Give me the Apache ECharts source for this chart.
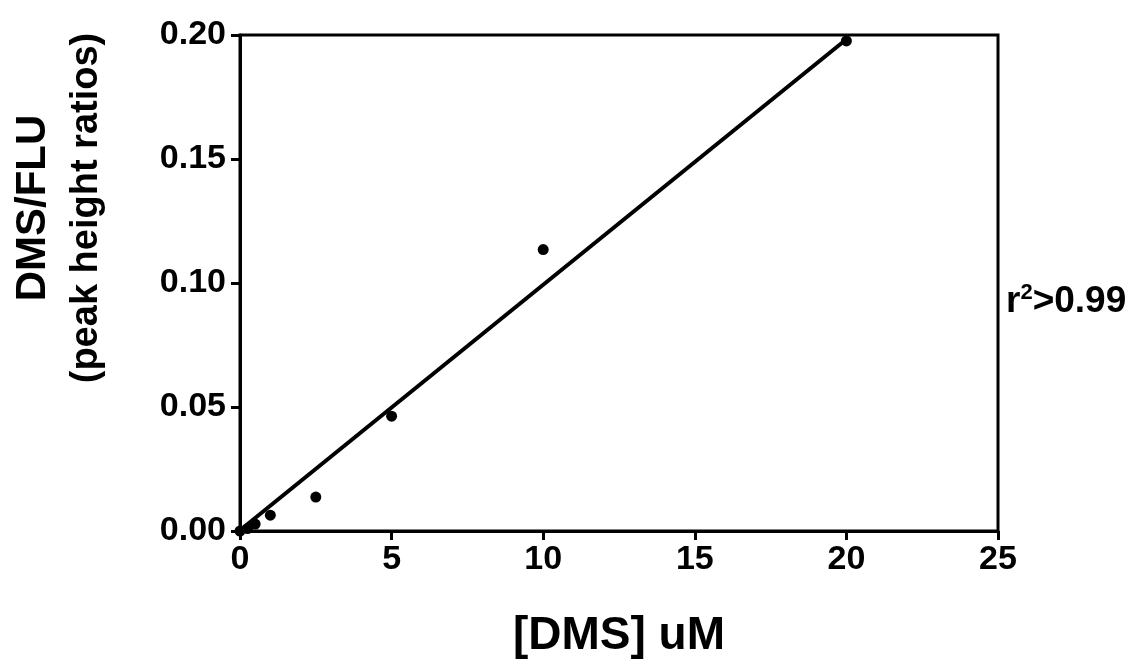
<!DOCTYPE html>
<html>
<head>
<meta charset="utf-8">
<script src="https://cdn.jsdelivr.net/npm/echarts@6/dist/echarts.min.js"></script>
<style>
html,body{margin:0;padding:0;background:#fff;}
#chart{width:1139px;height:662px;}
</style>
</head>
<body>
<div id="chart"></div>
<script>
// Measured data (DMS concentration in uM vs DMS/FLU peak height ratio)
const dmsConc = [0, 0.25, 0.5, 1, 2.5, 5, 10, 20];
const peakRatio = [0.0, 0.001, 0.0028, 0.0064, 0.0137, 0.0463, 0.1135, 0.1976];
// Regression line end points
const fitX = [0, 20];
const fitY = [0.0003, 0.1983];
const xTicks = [0, 5, 10, 15, 20, 25];
const yTicks = ['0.00', '0.05', '0.10', '0.15', '0.20'];
const xTitle = '[DMS] uM';
const yTitle = ['DMS/FLU', '(peak height ratios)'];
const rLabel = '>0.99';

const font = "'Liberation Sans', Arial, Helvetica, sans-serif";

const chart = echarts.init(document.getElementById('chart'), null, {renderer: 'canvas'});
chart.setOption({
  backgroundColor: '#ffffff',
  animation: false,
  grid: {left: 240, right: 141, top: 35, bottom: 131, show: true, borderColor: '#000', borderWidth: 3,
    containLabel: false, outerBoundsMode: 'none'},
  xAxis: {
    type: 'value', min: xTicks[0], max: xTicks[xTicks.length - 1], interval: 5,
    axisLine: {show: true, onZero: false, lineStyle: {color: '#000', width: 3}},
    axisTick: {show: true, inside: false, length: 9, lineStyle: {color: '#000', width: 3}},
    axisLabel: {color: '#000', fontFamily: font, fontWeight: 'bold', fontSize: 34, margin: 12},
    splitLine: {show: false},
    name: xTitle, nameLocation: 'middle', nameGap: 82,
    nameTextStyle: {color: '#000', fontFamily: font, fontWeight: 'bold', fontSize: 46}
  },
  yAxis: {
    type: 'value', min: 0, max: 0.2, interval: 0.05,
    axisLine: {show: true, onZero: false, lineStyle: {color: '#000', width: 3}},
    axisTick: {show: true, inside: false, length: 9, lineStyle: {color: '#000', width: 3}},
    axisLabel: {color: '#000', fontFamily: font, fontWeight: 'bold', fontSize: 34, margin: 14,
      formatter: function (v) { return yTicks[Math.round(v / 0.05)] || v.toFixed(2); }},
    splitLine: {show: false},
    name: '{a|' + yTitle[0] + '}\n{b|' + yTitle[1] + '}', nameLocation: 'middle', nameGap: 127, nameRotate: 90,
    nameTextStyle: {color: '#000', fontFamily: font, fontWeight: 'bold', fontSize: 42, lineHeight: 53,
      align: 'center', padding: [0, 0, 0, 150],
      rich: {
        a: {fontFamily: font, fontWeight: 'bold', fontSize: 42, lineHeight: 53, color: '#000'},
        b: {fontFamily: font, fontWeight: 'bold', fontSize: 38, lineHeight: 53, color: '#000'}
      }}
  },
  graphic: [{
    type: 'text', left: 1006, top: 282,
    style: {
      text: '{r|r}{s|2}{r|' + rLabel + '}',
      rich: {
        r: {fontFamily: font, fontWeight: 'bold', fontSize: 37, fill: '#000', verticalAlign: 'bottom'},
        s: {fontFamily: font, fontWeight: 'bold', fontSize: 22, fill: '#000', verticalAlign: 'top', padding: [0, 0, 16, 0]}
      }
    }
  }],
  series: [
    {
      type: 'line', data: fitX.map((x, i) => [x, fitY[i]]), showSymbol: false, symbol: 'none',
      lineStyle: {color: '#000', width: 4}, z: 3
    },
    {
      type: 'scatter', data: dmsConc.map((x, i) => [x, peakRatio[i]]), symbol: 'circle', symbolSize: 11,
      itemStyle: {color: '#000', opacity: 1}, z: 4
    }
  ]
});
</script>
</body>
</html>
